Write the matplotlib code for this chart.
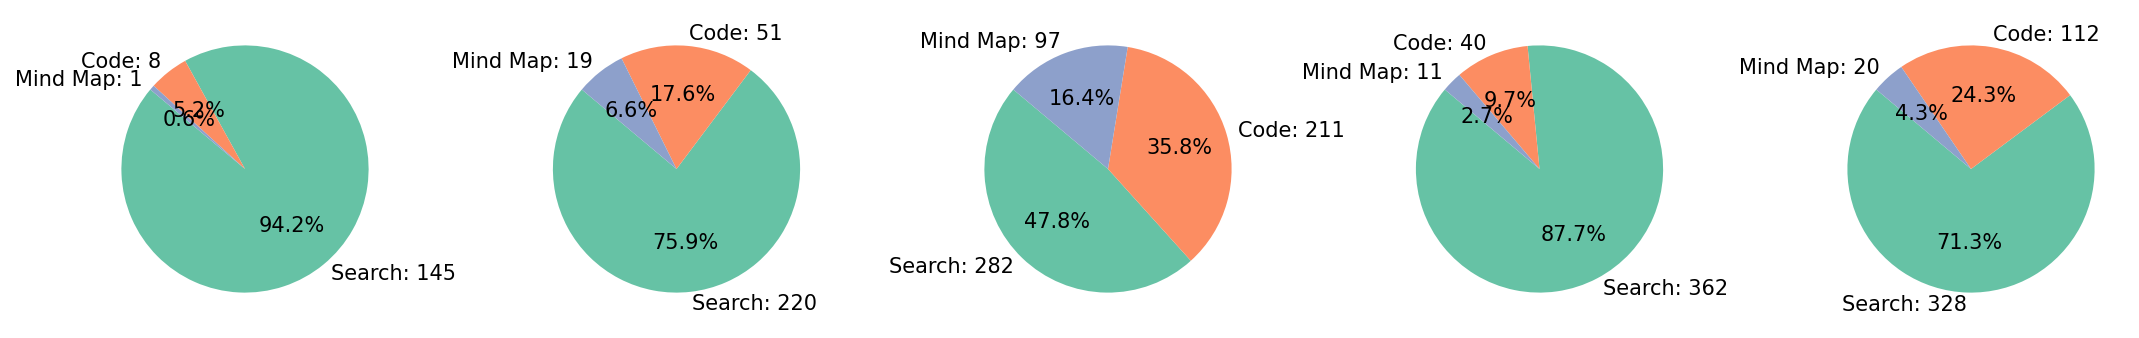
import matplotlib
matplotlib.use('Agg')
import matplotlib.pyplot as plt

labels = ['Search', 'Code', 'Mind Map']
search = [145, 220, 282, 362, 328]
code = [8, 51, 211, 40, 112]
mind_map = [1, 19, 97, 11, 20]
colors = ['#66c2a5', '#fc8d62', '#8da0cb']

W, H = 2139, 338
fig = plt.figure(figsize=(W / 100, H / 100), dpi=100)
size = 309
centers = [245, 676.5, 1108, 1539.5, 1971]

for i, cx in enumerate(centers):
    ax = fig.add_axes([(cx - size / 2) / W, (H / 2 - size / 2) / H, size / W, size / H])
    vals = [search[i], code[i], mind_map[i]]
    ax.pie(vals, labels=[f'{l}: {v}' for l, v in zip(labels, vals)],
           colors=colors, autopct='%1.1f%%', startangle=140,
           textprops={'fontsize': 15})
    ax.set_aspect('equal')

plt.savefig('out.png', dpi=100)
